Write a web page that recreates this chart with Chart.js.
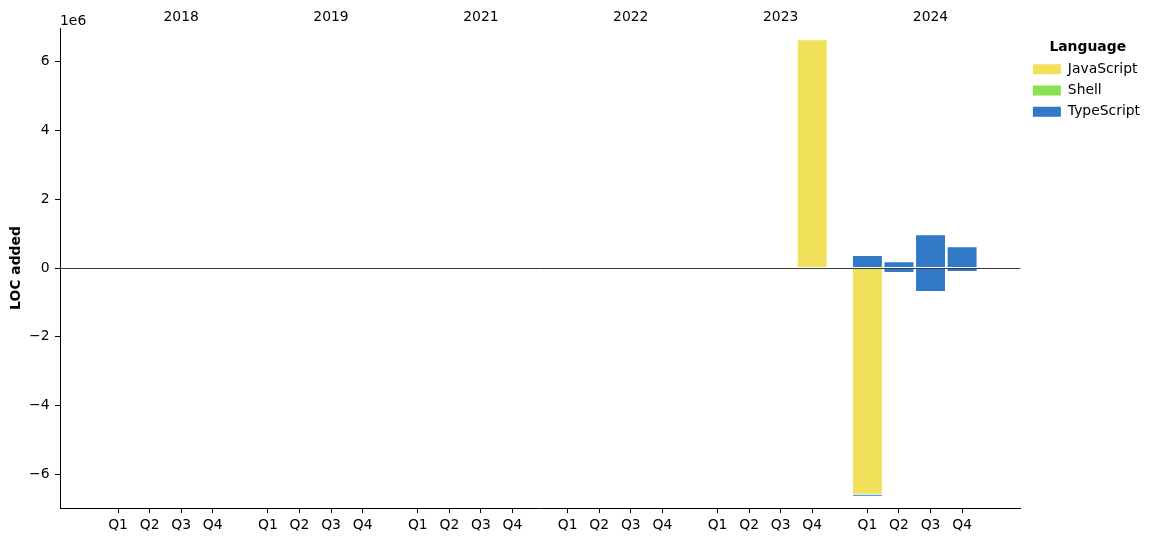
<!DOCTYPE html>
<html>
<head>
<meta charset="utf-8">
<script src="https://cdn.jsdelivr.net/npm/chart.js@4.4.1/dist/chart.umd.min.js"></script>
<style>
  html, body { margin: 0; padding: 0; background: #fff; }
  #wrap { width: 1159px; height: 542px; }
</style>
</head>
<body>
<div id="wrap"><canvas id="locChart"></canvas></div>
<script>
const years = ["2018", "2019", "2021", "2022", "2023", "2024"];
const quarters = ["Q1", "Q2", "Q3", "Q4"];
const languages = ["JavaScript", "Shell", "TypeScript"];
const colors = ["#f1e05a", "#89e051", "#3178c6"];

// LOC per quarter, one row per year (Q1..Q4)
const jsAdded = [
    0, 0, 0, 0,
    0, 0, 0, 0,
    0, 0, 0, 0,
    0, 0, 0, 0,
    0, 0, 0, 6.64e6,
    0, 0, 0, 0
];
const shellAdded = [
    0, 0, 0, 0,
    0, 0, 0, 0,
    0, 0, 0, 0,
    0, 0, 0, 0,
    0, 0, 0, 0,
    0, 0, 0, 0
];
const tsAdded = [
    0, 0, 0, 0,
    0, 0, 0, 0,
    0, 0, 0, 0,
    0, 0.04e6, 0, 0,
    0, 0, 0, 0,
    0.36e6, 0.18e6, 0.97e6, 0.62e6
];
const jsRemoved = [
    0, 0, 0, 0,
    0, 0, 0, 0,
    0, 0, 0, 0,
    0, 0, 0, 0,
    0, 0, 0, 0,
    -6.58e6, 0, 0, 0
];
const shellRemoved = [
    0, 0, 0, 0,
    0, 0, 0, 0,
    0, 0, 0, 0,
    0, 0, 0, 0,
    0, 0, 0, 0,
    0, 0, 0, 0
];
const tsRemoved = [
    0, 0, 0, 0,
    0, 0, 0, 0,
    0, 0, 0, 0,
    0, 0, 0, 0,
    0, 0, 0, 0,
    -0.06e6, -0.13e6, -0.68e6, -0.10e6
];
const yTicks = [-6e6, -4e6, -2e6, 0, 2e6, 4e6, 6e6];

// layout of the x axis: 4 quarter slots per year plus a gap
const YEAR_STEP = 4.75;
const X_MIN = -1.84;
const X_MAX = 28.6;

const slotX = (i) => Math.floor(i / 4) * YEAR_STEP + (i % 4);
const quarterTicks = years.flatMap((y, yi) => quarters.map((q, qi) => yi * YEAR_STEP + qi));
const yearTicks = years.map((y, yi) => yi * YEAR_STEP + 2);

function toPoints(values) {
    return values.map((v, i) => ({ x: slotX(i), y: v === 0 ? null : v }));
}

const added = [jsAdded, shellAdded, tsAdded];
const removed = [jsRemoved, shellRemoved, tsRemoved];

const datasets = [];
[added, removed].forEach((group) => {
    group.forEach((values, li) => {
        datasets.push({
            label: languages[li],
            data: toPoints(values),
            backgroundColor: colors[li],
            borderColor: "#ffffff",
            borderWidth: 0.5,
            borderSkipped: false,
            stack: "loc",
            barPercentage: 0.95,
            categoryPercentage: 1
        });
    });
});

const fmtMillions = (v) => {
    const n = Math.round(v / 1e6);
    return n < 0 ? "\u2212" + Math.abs(n) : String(n);
};

const offsetLabel = {
    id: "offsetLabel",
    afterDraw(chart) {
        const { ctx, chartArea } = chart;
        ctx.save();
        ctx.font = '13.9px "DejaVu Sans"';
        ctx.fillStyle = "#000";
        ctx.textAlign = "left";
        ctx.textBaseline = "middle";
        ctx.fillText("1e6", chartArea.left, chartArea.top - 7);
        ctx.restore();
    }
};

Chart.defaults.font.family = '"DejaVu Sans", sans-serif';
Chart.defaults.font.size = 13.9;
Chart.defaults.color = "#000";

new Chart(document.getElementById("locChart"), {
    type: "bar",
    data: { datasets },
    plugins: [offsetLabel],
    options: {
        responsive: true,
        maintainAspectRatio: false,
        animation: false,
        layout: { padding: { right: 9, left: 0, top: 0, bottom: 0 } },
        plugins: {
            tooltip: { enabled: false },
            legend: {
                position: "right",
                align: "start",
                title: {
                    display: true,
                    text: "Language",
                    color: "#000",
                    font: { weight: "bold", size: 13.9, lineHeight: 1 },
                    padding: { top: 40, bottom: 1 }
                },
                labels: {
                    boxWidth: 28,
                    boxHeight: 10,
                    padding: 7.4,
                    color: "#000",
                    generateLabels: () => languages.map((name, i) => ({
                        text: name,
                        fillStyle: colors[i],
                        strokeStyle: colors[i],
                        lineWidth: 0,
                        hidden: false,
                        datasetIndex: i
                    }))
                }
            }
        },
        scales: {
            x: {
                type: "linear",
                position: "bottom",
                offset: false,
                min: X_MIN,
                max: X_MAX,
                afterBuildTicks: (axis) => { axis.ticks = quarterTicks.map((v) => ({ value: v })); },
                afterFit: (axis) => { axis.height = 34; },
                ticks: {
                    autoSkip: false,
                    maxRotation: 0,
                    padding: 4,
                    callback: (v, i) => quarters[i % 4]
                },
                grid: { offset: false, drawOnChartArea: false, color: "#000", tickColor: "#000", tickLength: 5 },
                border: { color: "#000", width: 1 }
            },
            xTop: {
                type: "linear",
                axis: "x",
                position: "top",
                offset: false,
                min: X_MIN,
                max: X_MAX,
                afterBuildTicks: (axis) => { axis.ticks = yearTicks.map((v) => ({ value: v })); },
                afterFit: (axis) => { axis.height = 28; },
                ticks: {
                    autoSkip: false,
                    maxRotation: 0,
                    padding: 2,
                    callback: (v, i) => years[i]
                },
                grid: { display: false, drawTicks: false, offset: false },
                border: { display: false }
            },
            y: {
                stacked: true,
                min: -6.98e6,
                max: 6.98e6,
                afterBuildTicks: (axis) => { axis.ticks = yTicks.map((v) => ({ value: v })); },
                afterFit: (axis) => { axis.width = 60; },
                ticks: { padding: 5.5, callback: (v) => fmtMillions(v) },
                grid: {
                    z: 1,
                    color: (ctx) => (ctx.tick && ctx.tick.value === 0 ? "#3a3a3a" : "rgba(0,0,0,0)"),
                    tickColor: "#000",
                    tickLength: 5,
                    lineWidth: 1
                },
                border: { z: 1, color: "#000", width: 1 },
                title: {
                    display: true,
                    text: "LOC added",
                    color: "#000",
                    font: { weight: "bold", size: 13.9 },
                    padding: { top: 8, bottom: 0 }
                }
            },
            // empty right-hand box: keeps a small gap between plot and legend
            legendGap: {
                type: "linear",
                axis: "y",
                position: "right",
                grid: { display: false, drawTicks: false },
                border: { display: false },
                ticks: { display: false },
                afterFit: (axis) => { axis.width = 5; }
            }
        }
    }
});
</script>
</body>
</html>
